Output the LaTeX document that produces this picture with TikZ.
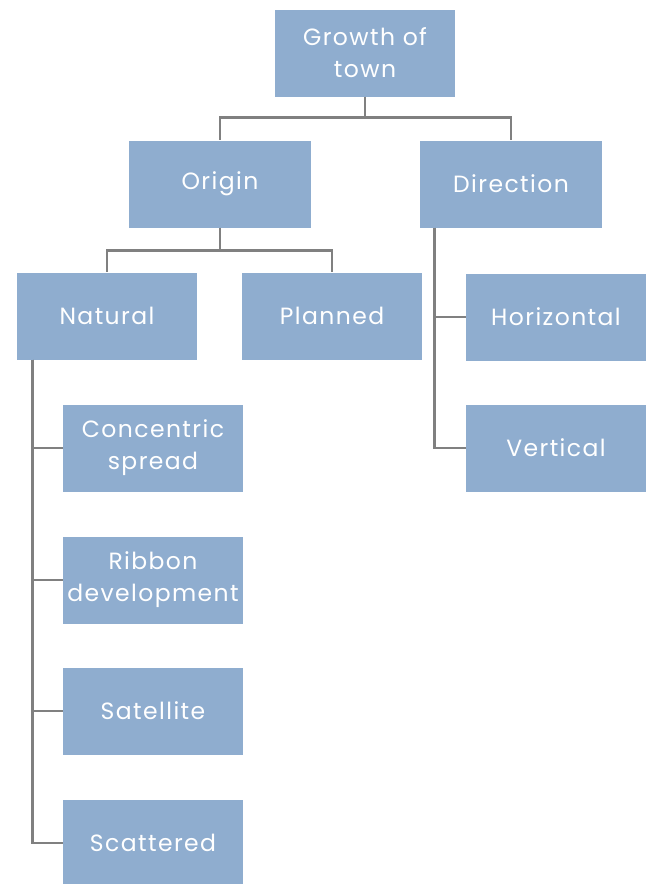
\documentclass[tikz,border=0pt]{standalone}
\usepackage{fontspec}
\newfontfamily\boxfont{Poppins}[LetterSpace=6]
\usepackage{tikz}
\usetikzlibrary{positioning,calc}
\definecolor{boxblue}{RGB}{143,173,207}
\definecolor{linegray}{RGB}{128,128,128}

\begin{document}
\begin{tikzpicture}[
    x=1pt, y=-1pt,
    font=\boxfont\fontsize{23.5}{32}\selectfont,
    block/.style={
		rectangle,
		fill=boxblue,
		text=white,
		align=center,
		minimum width=180pt,
		minimum height=87pt,
		inner sep=0pt
	},
	conn/.style={
		draw=linegray,
		line width=2.8pt
	}
  ]
  \useasboundingbox (0,0) rectangle (646,884);
    % We start by placing the blocks
  \node [block] (growth) at (365,53) {Growth of\\town};

  \node [block, minimum width=182pt] (origin) at (220,184) {Origin};
  \node [block, minimum width=182pt] (direction) at (511,184) {Direction};

  \node [block] (natural) at (107,316) {Natural};
  \node [block] (planned) at (332,316) {Planned};

  \node [block] (horizontal) at (556,317) {Horizontal};
  \node [block] (vertical) at (556,448) {Vertical};

  \node [block] (concentric) at (153,448) {Concentric\\spread};
  \node [block] (ribbon) at (153,580) {Ribbon\\development};
  \node [block] (satellite) at (153,711) {Satellite};
  \node [block] (scattered) at (153,843) {Scattered};

  % then the connectors
  \draw [conn] (growth.south) -- ++(0,21) -| (origin.north);
  \draw [conn] (growth.south) -- ++(0,21) -| (direction.north);

  \draw [conn] (origin.south) -- ++(0,23) -| (natural.north);
  \draw [conn] (origin.south) -- ++(0,23) -| (planned.north);

  \coordinate (ntrunk) at ([xshift=16pt]natural.south west);
  \foreach \c in {concentric, ribbon, satellite, scattered}
    \draw [conn] (ntrunk) |- (\c.west);

  \coordinate (dtrunk) at ([xshift=15pt]direction.south west);
  \foreach \c in {horizontal, vertical}
    \draw [conn] (dtrunk) |- (\c.west);

\end{tikzpicture}
\end{document}
